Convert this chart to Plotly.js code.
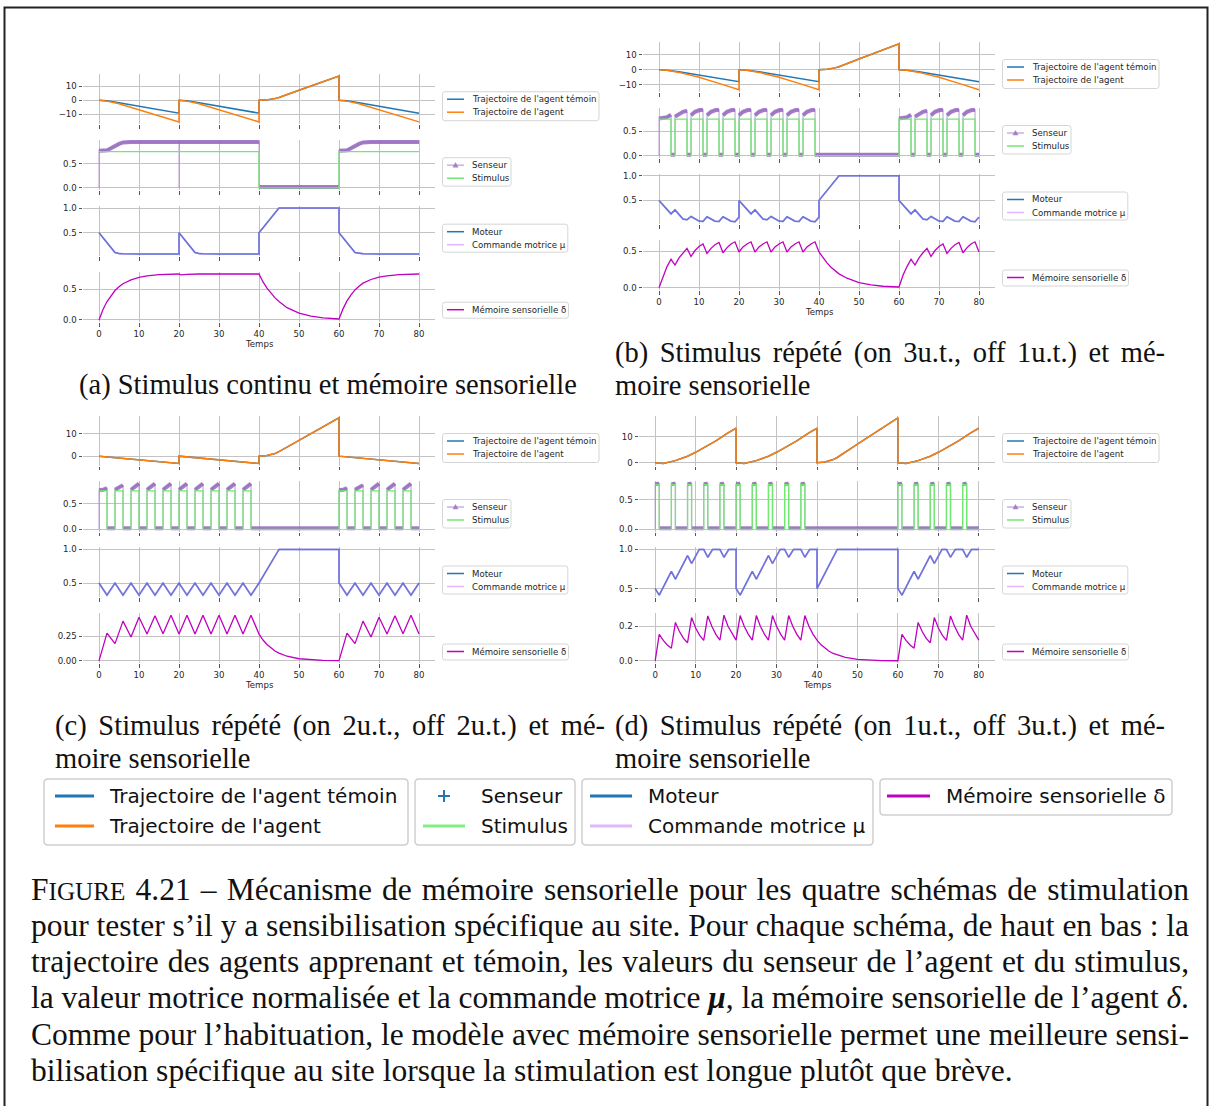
<!DOCTYPE html>
<html>
<head>
<meta charset="utf-8">
<script src="https://cdn.plot.ly/plotly-3.0.1.min.js"></script>
<style>body{margin:0;background:#fff}</style>
</head>
<body>
<div id="chart" style="width:1212px;height:1106px"></div>
<script>
// ===================== DATA =====================
const time_ticks = [0,10,20,30,40,50,60,70,80];

// ---- (a) continuous stimulus ----
const a_traj_t = [0,2,5,10,15,20, 20,22,25,30,35,40, 40,42,44,45,50,55,60, 60,62,65,70,75,80];
const a_temoin = [0,-0.4,-1.8,-4.2,-6.7,-9.1, 0,-0.4,-1.8,-4.2,-6.7,-9.1, 0,0.3,1.2,2.0,7.1,12.2,17.2, 0,-0.4,-1.8,-4.2,-6.7,-9.1];
const a_agent  = [0,-0.6,-2.4,-6.6,-11.0,-15.3, 0,-0.6,-2.4,-6.6,-11.0,-15.3, 0,0.3,1.2,2.0,7.1,12.2,17.2, 0,-0.6,-2.4,-6.6,-11.0,-15.3];
const a_stim_t = [0,40,40,60,60,80];
const a_stim   = [0.75,0.75,0,0,0.75,0.75];
const a_sens_t = [0,0,2,3,4,5,6,8,20,20,20,40,40,60,60,62,63,64,65,66,68,80];
const a_sens   = [0,0.77,0.78,0.82,0.87,0.91,0.94,0.95,0.95,0,0.95,0.95,0.02,0.02,0.77,0.78,0.82,0.87,0.91,0.94,0.95,0.95];
const a_mot_t  = [0,4,5,6,10,20,20,24,25,26,30,40,40,45,60,60,64,65,66,70,80];
const a_mot    = [0.5,0.1,0.08,0.075,0.072,0.072,0.5,0.1,0.08,0.075,0.072,0.072,0.5,1.0,1.0,0.5,0.1,0.08,0.075,0.072,0.072];
const a_mem_t  = [0,1,2,3,4,5,6,8,10,12,15,20,20.4,22,25,40,41,42,43,44,45,47,50,53,56,60,61,62,63,64,65,66,68,70,72,75,80];
const a_mem    = [0,0.17,0.3,0.4,0.48,0.54,0.59,0.655,0.695,0.72,0.74,0.75,0.735,0.745,0.75,0.75,0.62,0.52,0.43,0.36,0.3,0.2,0.11,0.06,0.033,0.015,0.18,0.31,0.41,0.49,0.55,0.6,0.66,0.7,0.72,0.74,0.75];

// ---- shared stimulus levels for the pulsed schemes (on 0.75 / off 0) ----
const stim_pulsed = [0.75,0.75,0,0, 0.75,0.75,0,0, 0.75,0.75,0,0, 0.75,0.75,0,0, 0.75,0.75,0,0,
                     0.75,0.75,0,0, 0.75,0.75,0,0, 0.75,0.75,0,0, 0.75,0.75,0,0, 0.75,0.75,0,0,
                     0.75,0.75,0,0, 0.75,0.75,0,0, 0.75,0.75,0,0, 0.75,0.75,0,0, 0.75,0.75,0,0];

// ---- (b) on 3, off 1 ----
const b_traj_t = [0,2,5,10,15,20, 20,22,25,30,35,40, 40,42,44,45,50,55,60, 60,62,65,70,75,80];
const b_temoin = [0,-0.3,-1.4,-3.6,-5.8,-8.0, 0,-0.3,-1.4,-3.6,-5.8,-8.0, 0,0.3,1.2,2.0,7.1,12.2,17.2, 0,-0.3,-1.4,-3.6,-5.8,-8.0];
const b_agent  = [0,-0.4,-1.8,-5.0,-9.1,-13.3, 0,-0.4,-1.8,-5.0,-9.1,-13.3, 0,0.3,1.2,2.0,7.1,12.2,17.2, 0,-0.4,-1.8,-5.0,-9.1,-13.3];
const b_stim_t = [0,3,3,4,4,7,7,8,8,11,11,12,12,15,15,16,16,19,19,20,20,23,23,24,24,27,27,28,28,31,31,32,32,35,35,36,36,39,39,60,
                  60,63,63,64,64,67,67,68,68,71,71,72,72,75,75,76,76,79,79,80];
const b_sens_t = [0,0,1,2,3,3, 4,4,5,6,7,7, 8,8,9,10,11,11, 12,12,13,14,15,15, 16,16,17,18,19,19, 20,20,21,22,23,23,
                  24,24,25,26,27,27, 28,28,29,30,31,31, 32,32,33,34,35,35, 36,36,37,38,39,39, 60,60,61,62,63,63,
                  64,64,65,66,67,67, 68,68,69,70,71,71, 72,72,73,74,75,75, 76,76,77,78,79,79, 80];
const b_sens   = [0,0.76,0.77,0.79,0.84,0.02, 0.02,0.8,0.86,0.9,0.92,0.02, 0.02,0.83,0.9,0.93,0.94,0.02,
                  0.02,0.83,0.9,0.93,0.94,0.02, 0.02,0.83,0.9,0.93,0.94,0.02, 0.02,0.83,0.9,0.93,0.94,0.02,
                  0.02,0.83,0.9,0.93,0.94,0.02, 0.02,0.83,0.9,0.93,0.94,0.02, 0.02,0.83,0.9,0.93,0.94,0.02,
                  0.02,0.83,0.9,0.93,0.94,0.02, 0.02,0.76,0.77,0.79,0.84,0.02, 0.02,0.8,0.86,0.9,0.92,0.02,
                  0.02,0.83,0.9,0.93,0.94,0.02, 0.02,0.83,0.9,0.93,0.94,0.02, 0.02,0.83,0.9,0.93,0.94,0.02, 0.02];
const b_mot_t  = [0,3,4,6,7,8,10,11,12,14,15,16,18,19,20, 20,23,24,26,27,28,30,31,32,34,35,36,38,39,40, 40,45,60,
                  60,63,64,66,67,68,70,71,72,74,75,76,78,79,80];
const b_mot    = [0.5,0.227,0.307,0.12,0.107,0.173,0.08,0.073,0.167,0.078,0.073,0.167,0.078,0.067,0.16,
                  0.5,0.227,0.307,0.12,0.107,0.173,0.08,0.073,0.167,0.078,0.073,0.167,0.078,0.067,0.16,
                  0.5,1.0,1.0,
                  0.5,0.227,0.307,0.12,0.107,0.173,0.08,0.073,0.167,0.078,0.073,0.167,0.078,0.067,0.16];
const bd_mem_t = [0,1,2,3,4,5,6,7,8,9,10,11,12,13,14,15,16,17,18,19,20,21,22,23,24,25,26,27,28,29,30,31,32,33,34,35,36,37,38,39,40,
                  41,42,43,44,45,47,50,53,56,60,61,62,63,64,65,66,67,68,69,70,71,72,73,74,75,76,77,78,79,80];
const b_mem    = [0,0.16,0.29,0.39,0.31,0.41,0.48,0.54,0.43,0.51,0.565,0.6,0.47,0.54,0.59,0.62,0.48,0.55,0.6,0.63,0.49,
                  0.56,0.6,0.63,0.49, 0.56,0.6,0.63,0.49, 0.56,0.6,0.63,0.49, 0.56,0.6,0.63,0.49, 0.56,0.6,0.63,0.49,
                  0.41,0.34,0.28,0.23,0.19, 0.13,0.07,0.04,0.02,0.01,
                  0.17,0.29,0.39,0.31,0.41,0.48,0.54,0.43,0.51,0.565,0.6,0.47,0.54,0.59,0.62,0.48,0.55,0.6,0.63,0.49];

// ---- (c) on 2, off 2 ----
const c_traj_t = [0,5,10,15,20, 20,25,30,35,40, 40,42,44,45,50,55,60, 60,65,70,75,80];
const c_temoin = [0,-0.8,-1.6,-2.5,-3.3, 0,-0.8,-1.6,-2.5,-3.3, 0,0.3,1.2,2.0,7.1,12.2,17.2, 0,-0.8,-1.6,-2.5,-3.3];
const c_agent  = [0,-0.8,-1.6,-2.5,-3.3, 0,-0.8,-1.6,-2.5,-3.3, 0,0.3,1.2,2.0,7.1,12.2,17.2, 0,-0.8,-1.6,-2.5,-3.3];
const c_stim_t = [0,2,2,4,4,6,6,8,8,10,10,12,12,14,14,16,16,18,18,20,20,22,22,24,24,26,26,28,28,30,30,32,32,34,34,36,36,38,38,60,
                  60,62,62,64,64,66,66,68,68,70,70,72,72,74,74,76,76,78,78,80];
const c_sens_t = [0,0,1,2,2, 4,4,5,6,6, 8,8,9,10,10, 12,12,13,14,14, 16,16,17,18,18, 20,20,21,22,22, 24,24,25,26,26,
                  28,28,29,30,30, 32,32,33,34,34, 36,36,37,38,38, 60,60,61,62,62, 64,64,65,66,66, 68,68,69,70,70,
                  72,72,73,74,74, 76,76,77,78,78, 80];
const c_sens   = [0,0.76,0.77,0.8,0.02, 0.02,0.77,0.82,0.86,0.02, 0.02,0.77,0.84,0.89,0.02, 0.02,0.77,0.84,0.89,0.02,
                  0.02,0.77,0.84,0.89,0.02, 0.02,0.77,0.84,0.89,0.02, 0.02,0.77,0.84,0.89,0.02, 0.02,0.77,0.84,0.89,0.02,
                  0.02,0.77,0.84,0.89,0.02, 0.02,0.77,0.84,0.89,0.02, 0.02,0.76,0.77,0.8,0.02, 0.02,0.77,0.82,0.86,0.02,
                  0.02,0.77,0.84,0.89,0.02, 0.02,0.77,0.84,0.89,0.02, 0.02,0.77,0.84,0.89,0.02, 0.02];
const c_mot_t  = [0,2,4,6,8,10,12,14,16,18,20,22,24,26,28,30,32,34,36,38,40,45,60,60,62,64,66,68,70,72,74,76,78,80];
const c_mot    = [0.5,0.32,0.5,0.32,0.5,0.32,0.5,0.32,0.5,0.32,0.5,0.32,0.5,0.32,0.5,0.32,0.5,0.32,0.5,0.32,0.5,
                  1.0,1.0,0.5,0.32,0.5,0.32,0.5,0.32,0.5,0.32,0.5,0.32,0.5];
const c_mem_t  = [0,2,4,6,8,10,12,14,16,18,20,22,24,26,28,30,32,34,36,38,40,41,42,43,44,45,47,50,53,56,60,
                  62,64,66,68,70,72,74,76,78,80];
const c_mem    = [0,0.28,0.174,0.4,0.24,0.44,0.27,0.455,0.273,0.46,0.27,0.46,0.27,0.46,0.27,0.46,0.27,0.46,0.27,0.46,0.27,
                  0.21,0.165,0.13,0.1,0.078,0.047,0.022,0.01,0.005,0.002,
                  0.28,0.174,0.4,0.24,0.44,0.27,0.455,0.273,0.46,0.27];

// ---- (d) on 1, off 3 ----
const d_traj_t = [0,2,5,8,10,12,15,18,20, 20,22,25,28,30,32,35,38,40, 40,42,44,45,50,55,60, 60,62,65,68,70,72,75,78,80];
const d_temoin = [0,-0.3,0.8,2.5,4.0,5.7,8.4,11.4,13.2, 0,-0.3,0.8,2.5,4.0,5.7,8.4,11.4,13.2, 0,0.3,1.2,2.0,7.1,12.2,17.2, 0,-0.3,0.8,2.5,4.0,5.7,8.4,11.4,13.2];
const d_agent  = [0,-0.3,0.8,2.5,4.0,5.7,8.4,11.4,13.2, 0,-0.3,0.8,2.5,4.0,5.7,8.4,11.4,13.2, 0,0.3,1.2,2.0,7.1,12.2,17.2, 0,-0.3,0.8,2.5,4.0,5.7,8.4,11.4,13.2];
const d_stim_t = [0,1,1,4,4,5,5,8,8,9,9,12,12,13,13,16,16,17,17,20,20,21,21,24,24,25,25,28,28,29,29,32,32,33,33,36,36,37,37,60,
                  60,61,61,64,64,65,65,68,68,69,69,72,72,73,73,76,76,77,77,80];
const d_sens_t = [0,0,1,1, 4,4,5,5, 8,8,9,9, 12,12,13,13, 16,16,17,17, 20,20,21,21, 24,24,25,25, 28,28,29,29,
                  32,32,33,33, 36,36,37,37, 60,60,61,61, 64,64,65,65, 68,68,69,69, 72,72,73,73, 76,76,77,77, 80];
const d_sens   = [0,0.76,0.77,0.02, 0.02,0.76,0.77,0.02, 0.02,0.76,0.77,0.02, 0.02,0.76,0.77,0.02, 0.02,0.76,0.77,0.02,
                  0.02,0.76,0.77,0.02, 0.02,0.76,0.77,0.02, 0.02,0.76,0.77,0.02, 0.02,0.76,0.77,0.02, 0.02,0.76,0.77,0.02,
                  0.02,0.76,0.77,0.02, 0.02,0.76,0.77,0.02, 0.02,0.76,0.77,0.02, 0.02,0.76,0.77,0.02, 0.02,0.76,0.77,0.02, 0.02];
const d_mot_t  = [0,1,4,5,8,9,10.9,12,13,14.2,16,17,18.2,20, 20,21,24,25,28,29,30.9,32,33,34.2,36,37,38.2,40, 40,45,60,
                  60,61,64,65,68,69,70.9,72,73,74.2,76,77,78.2,80];
const d_mot    = [0.5,0.417,0.72,0.62,0.92,0.82,1,1,0.9,1,1,0.9,1,1, 0.5,0.417,0.72,0.62,0.92,0.82,1,1,0.9,1,1,0.9,1,1,
                  0.5,1,1, 0.5,0.417,0.72,0.62,0.92,0.82,1,1,0.9,1,1,0.9,1,1];
const d_mem    = [0,0.153,0.118,0.092,0.073,0.222,0.17,0.13,0.105,0.25,0.19,0.148,0.118,0.26,0.2,0.153,0.12,0.264,0.2,0.157,0.12,
                  0.262,0.2,0.155,0.12, 0.262,0.2,0.155,0.12, 0.262,0.2,0.155,0.12, 0.262,0.2,0.155,0.12, 0.262,0.2,0.155,0.12,
                  0.093,0.072,0.056,0.043,0.034, 0.02,0.009,0.004,0.002,0.001,
                  0.153,0.118,0.092,0.073,0.222,0.17,0.13,0.105,0.25,0.19,0.148,0.118,0.26,0.2,0.153,0.12,0.264,0.2,0.157,0.12];

// ---- texts ----
const subcaptions = {
  a: ['(a) Stimulus continu et mémoire sensorielle'],
  b: ['(b) Stimulus répété (on 3u.t., off 1u.t.) et mé-', 'moire sensorielle'],
  c: ['(c) Stimulus répété (on 2u.t., off 2u.t.) et mé-', 'moire sensorielle'],
  d: ['(d) Stimulus répété (on 1u.t., off 3u.t.) et mé-', 'moire sensorielle']
};
const caption_lines = [
  [['F',1,''],['IGURE',0.8,''],[' 4.21 – Mécanisme de mémoire sensorielle pour les quatre schémas de stimulation',1,'']],
  [['pour tester s’il y a sensibilisation spécifique au site. Pour chaque schéma, de haut en bas : la',1,'']],
  [['trajectoire des agents apprenant et témoin, les valeurs du senseur de l’agent et du stimulus,',1,'']],
  [['la valeur motrice normalisée et la commande motrice ',1,''],['μ',1,'italic bold'],[', la mémoire sensorielle de l’agent ',1,''],['δ',1,'italic'],['.',1,'']],
  [['Comme pour l’habituation, le modèle avec mémoire sensorielle permet une meilleure sensi-',1,'']],
  [['bilisation spécifique au site lorsque la stimulation est longue plutôt que brève.',1,'']]
];
const lbl = {
  temoin:"Trajectoire de l'agent témoin", agent:"Trajectoire de l'agent",
  sens:'Senseur', stim:'Stimulus', mot:'Moteur', cmd:'Commande motrice μ', mem:'Mémoire sensorielle δ', time:'Temps'
};

// ===================== STYLE / LAYOUT =====================
const W = 1212, H = 1106;
const X = px => px / W, Y = py => 1 - py / H;
const C = {
  temoin:'#1f77b4', agent:'#ff7f0e', sensThin:'rgba(148,103,189,0.5)', sensBand:'rgba(148,103,189,0.85)',
  stim:'#72e872', mot:'#1f77b4', cmd:'rgba(190,110,255,0.5)', cmdLeg:'#e2b8fb', mem:'#c000c0',
  grid:'#c3c3c3', tick:'#555', txt:'#262626'
};
const TF = {family:'DejaVu Sans', size:8.6, color:C.txt};
const SERIF = 'Liberation Serif';
const SUBSIZE = 28.5;
const CAPSIZE = 31.5;

const panels = [
  {id:'a', x0:83,  x1:435, top:73.7,  h:50.5, gap:15.5, leg:442.5,
   traj:[a_traj_t,a_temoin,a_agent], stim:[a_stim_t,a_stim], sens:[a_sens_t,a_sens], mot:[a_mot_t,a_mot], mem:[a_mem_t,a_mem], memTick:[0.5,'.1f']},
  {id:'b', x0:643, x1:995, top:41.5,  h:50.5, gap:15.5, leg:1002.5,
   traj:[b_traj_t,b_temoin,b_agent], stim:[b_stim_t,stim_pulsed], sens:[b_sens_t,b_sens], mot:[b_mot_t,b_mot], mem:[bd_mem_t,b_mem], memTick:[0.5,'.1f']},
  {id:'c', x0:83,  x1:435, top:415.5, h:50.3, gap:15.5, leg:442.5,
   traj:[c_traj_t,c_temoin,c_agent], stim:[c_stim_t,stim_pulsed], sens:[c_sens_t,c_sens], mot:[c_mot_t,c_mot], mem:[c_mem_t,c_mem], memTick:[0.25,'.2f']},
  {id:'d', x0:639, x1:995, top:415.5, h:50.3, gap:15.5, leg:1002.5,
   traj:[d_traj_t,d_temoin,d_agent], stim:[d_stim_t,stim_pulsed], sens:[d_sens_t,d_sens], mot:[d_mot_t,d_mot], mem:[bd_mem_t,d_mem], memTick:[0.2,'.1f']}
];

function rangeOf(...arrs){
  let lo = Infinity, hi = -Infinity;
  arrs.forEach(a => a.forEach(v => { if (v != null) { lo = Math.min(lo, v); hi = Math.max(hi, v); } }));
  const m = (hi - lo) * 0.05; return [lo - m, hi + m];
}
function band(t, v){ // break the line at vertical jumps so the thick band stays horizontal
  const tt = [], vv = [];
  for (let i = 0; i < t.length; i++) {
    if (i > 0 && t[i] === t[i-1]) { tt.push(null); vv.push(null); }
    tt.push(t[i]); vv.push(v[i]);
  }
  return [tt, vv];
}

const traces = [];
const layout = {
  width:W, height:H, margin:{l:0,r:0,t:0,b:0}, paper_bgcolor:'#fff', plot_bgcolor:'rgba(0,0,0,0)',
  showlegend:false, shapes:[], annotations:[], hovermode:false
};

function line(x0,y0,x1,y1,color,width){
  layout.shapes.push({type:'line', xref:'paper', yref:'paper', x0:X(x0), y0:Y(y0), x1:X(x1), y1:Y(y1), line:{color, width}});
}
function rrect(x0,y0,x1,y1,r,stroke,sw){
  const p = (x,y) => `${X(x)},${Y(y)}`;
  const path = `M${p(x0+r,y0)} L${p(x1-r,y0)} Q${p(x1,y0)} ${p(x1,y0+r)} L${p(x1,y1-r)} Q${p(x1,y1)} ${p(x1-r,y1)} ` +
               `L${p(x0+r,y1)} Q${p(x0,y1)} ${p(x0,y1-r)} L${p(x0,y0+r)} Q${p(x0,y0)} ${p(x0+r,y0)} Z`;
  layout.shapes.push({type:'path', xref:'paper', yref:'paper', path, line:{color:stroke, width:sw}, fillcolor:'rgba(255,255,255,0.85)'});
}
function tri(cx,cy,s,color){
  const p = (x,y) => `${X(x)},${Y(y)}`;
  layout.shapes.push({type:'path', xref:'paper', yref:'paper', path:`M${p(cx-s,cy+s*0.8)} L${p(cx+s,cy+s*0.8)} L${p(cx,cy-s)} Z`,
    line:{color, width:0.5}, fillcolor:color});
}
function txt(x,y,text,font,anchor){
  layout.annotations.push({xref:'paper', yref:'paper', x:X(x), y:Y(y), text, showarrow:false,
    xanchor:anchor||'left', yanchor:'middle', font, borderpad:0});
}

panels.forEach((p, pi) => {
  const pxPerUnit = (p.x1 - p.x0) / 88;
  for (let r = 0; r < 4; r++) {
    const idx = pi*4 + r + 1, s = idx === 1 ? '' : String(idx);
    const yt = p.top + r*(p.h + p.gap), yb = yt + p.h;
    const xa = 'x' + s, ya = 'y' + s;
    let yr, dtick, fmt;
    if (r === 0) {
      yr = rangeOf(p.traj[1], p.traj[2]); dtick = 10; fmt = 'd';
      traces.push({x:p.traj[0], y:p.traj[1], xaxis:xa, yaxis:ya, mode:'lines', line:{color:C.temoin, width:1.5}, name:lbl.temoin});
      traces.push({x:p.traj[0], y:p.traj[2], xaxis:xa, yaxis:ya, mode:'lines', line:{color:C.agent, width:1.5}, name:lbl.agent});
    } else if (r === 1) {
      yr = rangeOf(p.sens[1], p.stim[1]); dtick = 0.5; fmt = '.1f';
      const bd = band(p.sens[0], p.sens[1]);
      traces.push({x:p.sens[0], y:p.sens[1], xaxis:xa, yaxis:ya, mode:'lines', line:{color:C.sensThin, width:1.3}, name:lbl.sens});
      traces.push({x:bd[0], y:bd[1], xaxis:xa, yaxis:ya, mode:'lines', line:{color:C.sensBand, width:4}, connectgaps:false, name:lbl.sens});
      traces.push({x:p.stim[0], y:p.stim[1], xaxis:xa, yaxis:ya, mode:'lines', line:{color:C.stim, width:1.3}, name:lbl.stim});
    } else if (r === 2) {
      yr = rangeOf(p.mot[1]); dtick = 0.5; fmt = '.1f';
      traces.push({x:p.mot[0], y:p.mot[1], xaxis:xa, yaxis:ya, mode:'lines', line:{color:C.mot, width:1.5}, name:lbl.mot});
      traces.push({x:p.mot[0], y:p.mot[1], xaxis:xa, yaxis:ya, mode:'lines', line:{color:C.cmd, width:1.8}, name:lbl.cmd});
    } else {
      yr = rangeOf(p.mem[1]); dtick = p.memTick[0]; fmt = p.memTick[1];
      traces.push({x:p.mem[0], y:p.mem[1], xaxis:xa, yaxis:ya, mode:'lines', line:{color:C.mem, width:1.3}, name:lbl.mem});
    }
    layout['xaxis' + s] = {
      domain:[X(p.x0), X(p.x1)], range:[-4, 84], anchor:ya, tickmode:'array', tickvals:time_ticks,
      ticktext:time_ticks.map(String), showticklabels:r === 3, ticks:'outside', ticklen:3.5, tickwidth:1,
      tickcolor:C.tick, showgrid:true, gridcolor:C.grid, gridwidth:1, zeroline:false, showline:false,
      tickfont:TF, fixedrange:true
    };
    layout['yaxis' + s] = {
      domain:[Y(yb), Y(yt)], range:yr, anchor:xa, tick0:0, dtick, tickformat:fmt, ticks:'outside', ticklen:3.5,
      tickwidth:1, tickcolor:C.tick, showgrid:true, gridcolor:C.grid, gridwidth:1, zeroline:false, showline:false,
      tickfont:TF, fixedrange:true
    };
    if (r === 3) {
      txt(p.x0 + 44*pxPerUnit, yb + 22, lbl.time, TF, 'center');
    }
  }
  // in-panel legends
  const L = p.leg, T = p.top;
  const legs = [
    {y0:18, y1:47, w:156.5, items:[[lbl.temoin, C.temoin], [lbl.agent, C.agent]]},
    {y0:84, y1:112.5, w:68.5, items:[[lbl.sens, 'rgba(148,103,189,0.5)', true], [lbl.stim, C.stim]]},
    {y0:150.5, y1:178.5, w:125.3, items:[[lbl.mot, C.mot], [lbl.cmd, C.cmdLeg]]},
    {y0:228.5, y1:244.5, w:126, items:[[lbl.mem, C.mem]]}
  ];
  legs.forEach(g => {
    rrect(L, T + g.y0, L + g.w, T + g.y1, 2.5, '#d6d6d6', 1);
    g.items.forEach((it, k) => {
      const yy = T + g.y0 + 7.5 + k*13;
      line(L + 4.5, yy, L + 21.5, yy, it[1], 1.5);
      if (it[2]) tri(L + 13, yy, 2.6, 'rgba(148,103,189,0.75)');
      txt(L + 28, yy, it[0], TF, 'left');
    });
  });
});

// ---- bottom shared legend ----
const BF = {family:'DejaVu Sans', size:20, color:'#111'};
rrect(44, 779, 408, 845, 4, '#cfcfcf', 1.5);
line(55, 796, 94, 796, C.temoin, 3); txt(108, 796, lbl.temoin, BF);
line(55, 826, 94, 826, C.agent, 3);  txt(108, 826, lbl.agent, BF);
rrect(415, 779, 575, 845, 4, '#cfcfcf', 1.5);
line(438, 796, 450, 796, C.temoin, 2); line(444, 790, 444, 802, C.temoin, 2); txt(480, 796, lbl.sens, BF);
line(423, 826, 465, 826, '#80f080', 3); txt(480, 826, lbl.stim, BF);
rrect(582, 779, 873, 845, 4, '#cfcfcf', 1.5);
line(590, 796, 632, 796, C.mot, 3); txt(647, 796, lbl.mot, BF);
line(590, 826, 632, 826, C.cmdLeg, 3); txt(647, 826, lbl.cmd, BF);
rrect(880, 779, 1172, 815, 4, '#cfcfcf', 1.5);
line(887, 796, 930, 796, C.mem, 3); txt(945, 796, lbl.mem, BF);

// ---- justified serif text lines ----
const ctx = document.createElement('canvas').getContext('2d');
function measure(segs, size){
  let w = 0;
  segs.forEach(([t, f, st]) => { ctx.font = `${st || ''} ${size*f}px "${SERIF}"`; w += ctx.measureText(t).width; });
  return w;
}
function esc(s){ return s.replace(/&/g,'&amp;').replace(/</g,'&lt;'); }
function serifLine(x, y, segs, size, target){
  let ws = 0;
  if (target) {
    const nsp = segs.reduce((n, s) => n + (s[0].match(/ /g) || []).length, 0);
    ws = (target - measure(segs, size)) / Math.max(1, nsp);
    if (!isFinite(ws)) ws = 0;
    ws = Math.max(-3, Math.min(16, ws));
  }
  const html = segs.map(([t, f, st]) => {
    let inner = esc(t);
    if (st.includes('italic')) inner = '<i>' + inner + '</i>';
    if (st.includes('bold')) inner = '<b>' + inner + '</b>';
    return `<span style="font-size:${(size*f).toFixed(2)}px;word-spacing:${ws.toFixed(2)}px">${inner}</span>`;
  }).join('');
  txt(x, y, html, {family:SERIF, size, color:'#111'}, 'left');
}
serifLine(78, 385, [[subcaptions.a[0],1,'']], SUBSIZE, 0);
serifLine(614, 353, [[subcaptions.b[0],1,'']], SUBSIZE, 550);
serifLine(614, 385, [[subcaptions.b[1],1,'']], SUBSIZE, 0);
serifLine(54, 726, [[subcaptions.c[0],1,'']], SUBSIZE, 550);
serifLine(54, 758, [[subcaptions.c[1],1,'']], SUBSIZE, 0);
serifLine(614, 726, [[subcaptions.d[0],1,'']], SUBSIZE, 550);
serifLine(614, 758, [[subcaptions.d[1],1,'']], SUBSIZE, 0);
const capY = [889, 925, 961, 997.5, 1034, 1070];
caption_lines.forEach((segs, i) => serifLine(30, capY[i], segs, CAPSIZE, i < 5 ? 1158 : 0));

// ---- outer frame ----
layout.shapes.push({type:'rect', xref:'paper', yref:'paper', x0:X(4.5), x1:X(1207.5), y0:Y(1112), y1:Y(7.5),
  line:{color:'#222', width:2}, fillcolor:'rgba(0,0,0,0)'});

traces.forEach(t => { t.hoverinfo = 'skip'; });
Plotly.newPlot('chart', traces, layout, {staticPlot:true, displayModeBar:false});
</script>
</body>
</html>
